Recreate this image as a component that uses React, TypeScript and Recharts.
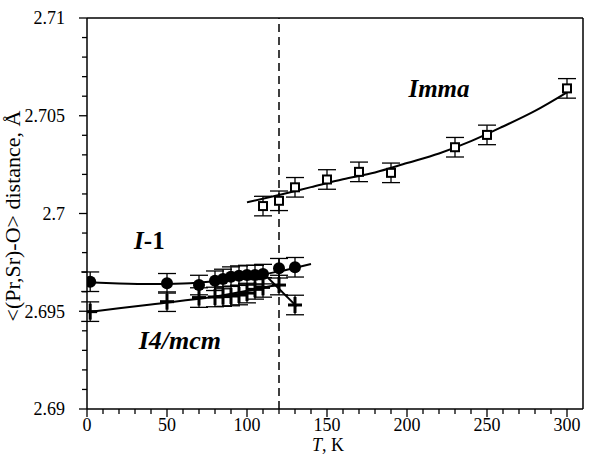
import {
  ComposedChart,
  XAxis,
  YAxis,
  Scatter,
  Line,
  ErrorBar,
  ReferenceLine,
  ReferenceDot,
} from "recharts";

// I-1 phase (filled circles)
const tempI1 = [2, 50, 70, 80, 85, 90, 95, 100, 105, 110, 120, 130];
const distI1 = [2.69651, 2.69643, 2.69634, 2.69656, 2.69665, 2.69677, 2.69682, 2.69685, 2.69685, 2.6969, 2.6972, 2.69725];
const errI1 = 0.0005;

// I4/mcm phase (crosses)
const tempI4 = [2, 50, 70, 80, 85, 90, 95, 100, 105, 110, 120, 130];
const distI4 = [2.69498, 2.69549, 2.6957, 2.69573, 2.69575, 2.69578, 2.69583, 2.69593, 2.69612, 2.69622, 2.69634, 2.69532];
const errI4 = 0.0005;

// Imma phase (open squares)
const tempImma = [110, 120, 130, 150, 170, 190, 230, 250, 300];
const distImma = [2.70038, 2.70065, 2.70134, 2.70174, 2.70213, 2.70208, 2.70339, 2.70402, 2.7064];
const errImma = 0.0005;

// fitted curves
const fitI1T = [0, 20, 40, 60, 80, 100, 120, 140];
const fitI1V = [2.69648, 2.69642, 2.69639, 2.69642, 2.69654, 2.69674, 2.69704, 2.69742];
const fitI4T = [0, 40, 80, 120];
const fitI4V = [2.69495, 2.69535, 2.69575, 2.69637];
const dropT = [112, 131];
const dropV = [2.6968, 2.69525];
const fitImmaT = [100, 120, 140, 160, 180, 200, 220, 240, 260, 280, 300];
const fitImmaV = [2.70057, 2.70095, 2.70135, 2.70175, 2.7021, 2.70258, 2.70307, 2.7037, 2.70445, 2.70525, 2.7062];

const xTicks = Array.from({ length: 31 }, (_, i) => i * 10);
const yTicks = Array.from({ length: 21 }, (_, i) => Number((2.69 + i * 0.001).toFixed(3)));

const FONT = '"Liberation Serif", "Times New Roman", "DejaVu Serif", serif';

const pts = (t: number[], v: number[], e?: number) => t.map((T, i) => ({ T, v: v[i], err: e }));

const XTick = (props: any) => {
  const { x, y, payload } = props;
  const major = payload.value % 50 === 0;
  return (
    <g>
      <line x1={x} x2={x} y1={y} y2={y + (major ? 8 : 5)} stroke="#000" strokeWidth={1.3} />
      {major && (
        <text x={x} y={y + 22} textAnchor="middle" fill="#000" style={{ fontFamily: FONT, fontSize: 18 }}>
          {payload.value}
        </text>
      )}
    </g>
  );
};

const YTick = (props: any) => {
  const { x, y, payload } = props;
  const major = Math.round(payload.value * 1000) % 5 === 0;
  return (
    <g>
      <line x1={x - (major ? 8 : 5)} x2={x} y1={y} y2={y} stroke="#000" strokeWidth={1.3} />
      {major && (
        <text x={x - 22} y={y} dy="0.35em" textAnchor="end" fill="#000" style={{ fontFamily: FONT, fontSize: 18 }}>
          {String(payload.value)}
        </text>
      )}
    </g>
  );
};

const Circle = (p: any) => <circle cx={p.cx} cy={p.cy} r={6} fill="#000" />;
const Square = (p: any) => (
  <rect x={p.cx - 4} y={p.cy - 4} width={8} height={8} fill="#fff" stroke="#000" strokeWidth={2} />
);
const Cross = (p: any) => (
  <g stroke="#000" strokeWidth={3}>
    <line x1={p.cx - 7} x2={p.cx + 7} y1={p.cy} y2={p.cy} />
    <line x1={p.cx} x2={p.cx} y1={p.cy - 8} y2={p.cy + 8} />
  </g>
);

const note = (txt: any, size: number) => (p: any) =>
  (
    <text
      x={p.cx}
      y={p.cy}
      dy="0.35em"
      textAnchor="middle"
      fill="#000"
      style={{ fontFamily: FONT, fontSize: size, fontWeight: "bold", fontStyle: "italic" }}
    >
      {txt}
    </text>
  );

const App = () => {
  return (
    <div style={{ position: "absolute", left: 0, top: 0 }}>
      <ComposedChart width={604} height={456} margin={{ top: 18, right: 21, bottom: 0, left: 0 }}>
        <XAxis
          dataKey="T"
          type="number"
          domain={[0, 310]}
          ticks={xTicks}
          interval={0}
          tickSize={0}
          tickMargin={0}
          tick={<XTick />}
          height={47}
          axisLine={{ stroke: "#000", strokeWidth: 1.5 }}
          allowDataOverflow
          label={{
            content: () => (
              <text x={328} y={451} textAnchor="middle" fill="#000" style={{ fontFamily: FONT, fontSize: 18 }}>
                <tspan fontStyle="italic">T</tspan>, K
              </text>
            ),
          }}
        />
        <YAxis
          dataKey="v"
          type="number"
          domain={[2.69, 2.71]}
          ticks={yTicks}
          interval={0}
          tickSize={0}
          tickMargin={0}
          tick={<YTick />}
          width={87}
          axisLine={{ stroke: "#000", strokeWidth: 1.5 }}
          allowDataOverflow
          label={{
            content: () => (
              <text
                x={0}
                y={0}
                transform="translate(20,216) rotate(-90)"
                textAnchor="middle"
                fill="#000"
                style={{ fontFamily: FONT, fontSize: 22 }}
              >
                {"<(Pr,Sr)-O> distance, Å"}
              </text>
            ),
          }}
        />
        <ReferenceLine y={2.71} stroke="#000" strokeWidth={1.5} />
        <ReferenceLine x={310} stroke="#000" strokeWidth={1.5} />
        <ReferenceLine x={120} stroke="#000" strokeWidth={1.5} strokeDasharray="8 5" />

        <Line data={pts(fitI1T, fitI1V)} dataKey="v" type="monotone" stroke="#000" strokeWidth={2} dot={false} isAnimationActive={false} />
        <Line data={pts(fitI4T, fitI4V)} dataKey="v" type="monotone" stroke="#000" strokeWidth={2} dot={false} isAnimationActive={false} />
        <Line data={pts(dropT, dropV)} dataKey="v" type="linear" stroke="#000" strokeWidth={2} dot={false} isAnimationActive={false} />
        <Line data={pts(fitImmaT, fitImmaV)} dataKey="v" type="monotone" stroke="#000" strokeWidth={2} dot={false} isAnimationActive={false} />

        <Scatter data={pts(tempI1, distI1, errI1)} dataKey="v" shape={Circle} isAnimationActive={false}>
          <ErrorBar dataKey="err" direction="y" width={9} stroke="#000" strokeWidth={1.3} />
        </Scatter>
        <Scatter data={pts(tempI4, distI4, errI4)} dataKey="v" shape={Cross} isAnimationActive={false}>
          <ErrorBar dataKey="err" direction="y" width={9} stroke="#000" strokeWidth={1.3} />
        </Scatter>
        <Scatter data={pts(tempImma, distImma, errImma)} dataKey="v" shape={Square} isAnimationActive={false}>
          <ErrorBar dataKey="err" direction="y" width={9} stroke="#000" strokeWidth={1.3} />
        </Scatter>

        <ReferenceDot x={39} y={2.69864} r={0} shape={note(<><tspan>I</tspan><tspan fontStyle="normal">-1</tspan></>, 25)} />
        <ReferenceDot x={58} y={2.69353} r={0} shape={note("I4/mcm", 26)} />
        <ReferenceDot x={220} y={2.70642} r={0} shape={note("Imma", 25)} />
      </ComposedChart>
    </div>
  );
};

export default App;
